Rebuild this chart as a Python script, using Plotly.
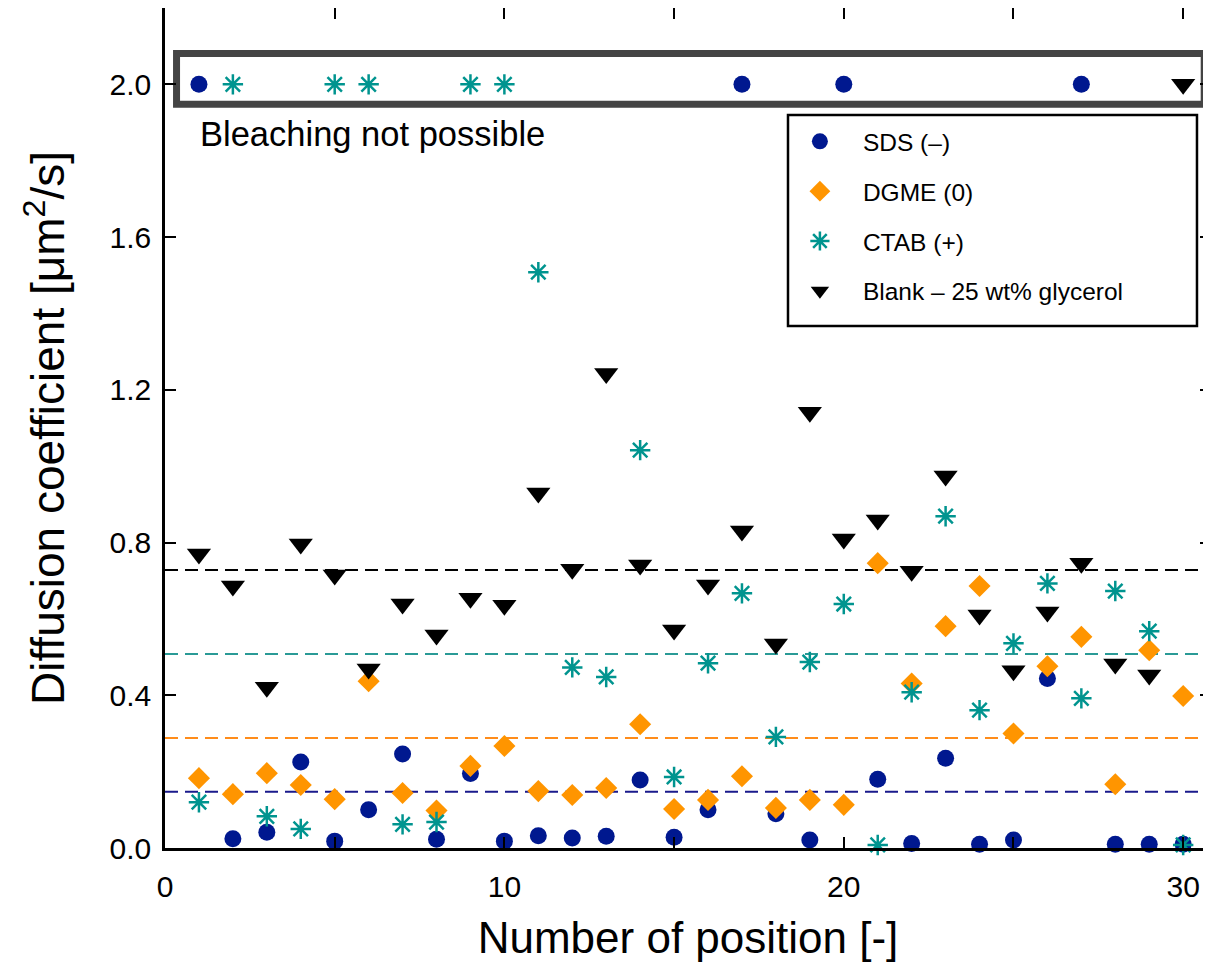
import plotly.graph_objects as go

positions = list(range(1, 31))

sds = [2.0, 0.024, 0.041, 0.225, 0.018, 0.100, 0.246, 0.023, 0.195, 0.018,
       0.032, 0.026, 0.031, 0.178, 0.028, 0.100, 2.0, 0.090, 0.021, 2.0,
       0.180, 0.012, 0.235, 0.010, 0.021, 0.444, 2.0, 0.010, 0.010, 0.010]

dgme = [0.183, 0.141, 0.196, 0.165, 0.128, 0.437, 0.144, 0.098, 0.215, 0.267,
        0.149, 0.139, 0.157, 0.324, 0.102, 0.126, 0.188, 0.105, 0.126, 0.113,
        0.746, 0.431, 0.581, 0.686, 0.300, 0.476, 0.553, 0.167, 0.518, 0.398]

ctab = [0.120, 2.0, 0.083, 0.050, 2.0, 2.0, 0.062, 0.068, 2.0, 2.0,
        1.508, 0.473, 0.448, 1.042, 0.186, 0.484, 0.667, 0.291, 0.487, 0.639,
        0.008, 0.408, 0.869, 0.361, 0.536, 0.693, 0.392, 0.673, 0.568, 0.008]

blank = [0.770, 0.686, 0.421, 0.796, 0.715, 0.469, 0.639, 0.558, 0.654, 0.636,
         0.930, 0.730, 1.243, 0.741, 0.571, 0.689, 0.830, 0.534, 1.141, 0.809,
         0.859, 0.725, 0.974, 0.610, 0.464, 0.618, 0.746, 0.482, 0.453, 2.0]

series_names = ["SDS (–)", "DGME (0)", "CTAB (+)", "Blank – 25 wt% glycerol"]
mean_levels = [0.147, 0.288, 0.508, 0.728]

marker_colors = ["#00188f", "#ff9500", "#00948f", "#000000"]
line_colors = ["#1a1a8c", "#ff8c1a", "#2a9a96", "#000000"]

x_ticks = [0, 10, 20, 30]
y_ticks = [0.0, 0.4, 0.8, 1.2, 1.6, 2.0]

FONT = "Liberation Sans, Arial, Helvetica, sans-serif"

fig = go.Figure()

# mean dashed lines
for lvl, col in zip(mean_levels, line_colors):
    fig.add_shape(type="line", xref="paper", x0=0, x1=1, yref="y", y0=lvl, y1=lvl,
                  line=dict(color=col, width=2, dash="13px,7px"), layer="below")

# "bleaching not possible" box
fig.add_shape(type="rect", xref="x", yref="y", x0=0.34, x1=30.62, y0=1.948, y1=2.081,
              line=dict(color="#444444", width=7), layer="below")

fig.add_annotation(x=0.032, xref="paper", y=1.87, yref="y", text="Bleaching not possible",
                   showarrow=False, xanchor="left", yanchor="middle",
                   font=dict(size=34.5, color="black", family=FONT))

# legend frame
fig.add_shape(type="rect", xref="paper", yref="paper", x0=0.5956, x1=0.9866, y0=0.6214, y1=0.8726,
              line=dict(color="black", width=2.5), fillcolor="white", layer="below")

data = [sds, dgme, ctab, blank]
symbols = ["circle", "diamond", "asterisk-open", "triangle-down"]
sizes = [17, 17, 17, 21]
for i, (name, vals, sym, sz, col) in enumerate(zip(series_names, data, symbols, sizes, marker_colors)):
    mk = dict(symbol=sym, size=sz, color=col)
    if sym == "asterisk-open":
        mk["line"] = dict(color=col, width=2.5)
    else:
        mk["line"] = dict(width=0)
    fig.add_trace(go.Scatter(x=positions, y=vals, mode="markers", name=name,
                             marker=mk, legendgroup=f"g{i}", cliponaxis=False))

# The page body has an 8px default margin, so the figure is 8px smaller and offset.
fig.update_layout(
    width=1203, height=954,
    margin=dict(l=157, r=0, t=0, b=114),
    paper_bgcolor="white", plot_bgcolor="white",
    font=dict(family=FONT, color="black"),
    showlegend=True,
    legend=dict(x=0.585, y=0.868, xanchor="left", yanchor="top",
                borderwidth=0, bgcolor="rgba(0,0,0,0)",
                font=dict(size=24.5, family=FONT), tracegroupgap=15,
                itemsizing="trace", itemwidth=76),
    xaxis=dict(range=[0, 30.82], tickvals=x_ticks, ticktext=[str(v) for v in x_ticks],
               ticks="inside", ticklen=11, tickwidth=2, tickcolor="black",
               minor=dict(dtick=5, tick0=0, ticks="inside", ticklen=11, tickwidth=2, tickcolor="black"),
               showline=True, linecolor="black", linewidth=2.5, mirror="ticks",
               showgrid=False, zeroline=False, automargin=False,
               tickfont=dict(size=30, family=FONT), ticklabelstandoff=10,
               title=dict(text="Number of position [-]", font=dict(size=44, family=FONT), standoff=21)),
    yaxis=dict(range=[0, 2.2], tickvals=y_ticks, ticktext=[f"{v:.1f}" for v in y_ticks],
               ticks="inside", ticklen=11, tickwidth=2, tickcolor="black",
               showline=True, linecolor="black", linewidth=2.5, mirror="ticks",
               showgrid=False, zeroline=False, automargin=False,
               tickfont=dict(size=30, family=FONT), ticklabelstandoff=5,
               title=dict(text="Diffusion coefficient [μm<sup>2</sup>/s]", font=dict(size=46, family=FONT), standoff=31)),
)

fig.write_html("out.html")
